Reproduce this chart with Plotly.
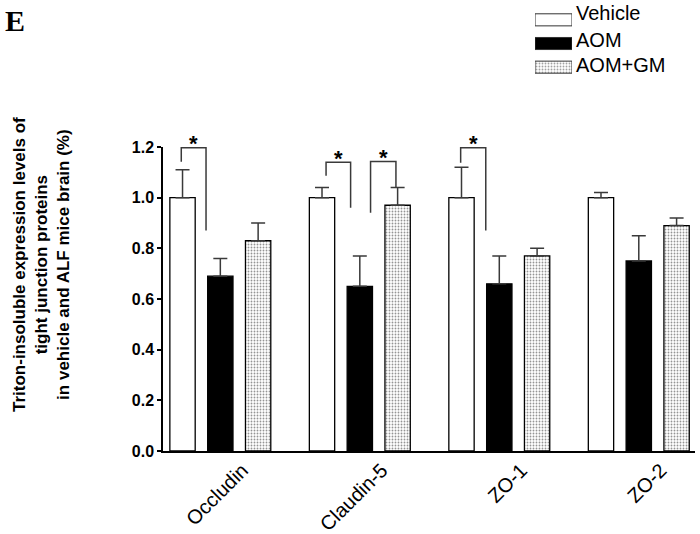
import plotly.graph_objects as go

# ---------------- data ----------------
categories = ["Occludin", "Claudin-5", "ZO-1", "ZO-2"]
series_names = ["Vehicle", "AOM", "AOM+GM"]
vehicle = [1.00, 1.00, 1.00, 1.00]
vehicle_err = [0.11, 0.04, 0.12, 0.02]
aom = [0.69, 0.65, 0.66, 0.75]
aom_err = [0.07, 0.12, 0.11, 0.10]
aom_gm = [0.83, 0.97, 0.77, 0.89]
aom_gm_err = [0.07, 0.07, 0.03, 0.03]
y_ticks = [0.0, 0.2, 0.4, 0.6, 0.8, 1.0, 1.2]

# significance brackets: (category index, left x offset, right x offset,
#                         top y, left leg end y, right leg end y, label)
bracket_cat = [0, 1, 1, 2]
bracket_left = [-0.280, -0.242, 0.077, -0.277]
bracket_right = [-0.1025, -0.066, 0.259, -0.097]
bracket_top = [1.197, 1.140, 1.143, 1.197]
bracket_left_end = [1.142, 1.087, 0.940, 1.138]
bracket_right_end = [0.870, 0.960, 1.040, 0.870]
bracket_label = ["*", "*", "*", "*"]

# ---------------- layout geometry (pixels) ----------------
W, H = 700, 534
PL, PR, PT, PB = 163, 695, 147, 451   # plot area edges in pixels
YMAX = 1.2


def px_x(px):
    return px / W


def px_y(py):
    return 1 - py / H


YD0, YD1 = px_y(PB), px_y(PT)


def val_y(v):
    return YD0 + (v / YMAX) * (YD1 - YD0)


FONT = "Liberation Sans, Arial, sans-serif"
EDGE = "black"
ERRC = "#3a3a3a"
PATTERN = dict(shape=".", size=3, solidity=0.3, fgcolor="#2a2a2a", bgcolor="white")

fig = go.Figure()

fills = ["white", "black", "white"]
patterns = [None, None, PATTERN]
vals = [vehicle, aom, aom_gm]
errs = [vehicle_err, aom_err, aom_gm_err]

for name, v, e, fc, pat in zip(series_names, vals, errs, fills, patterns):
    marker = dict(color=fc, line=dict(color=EDGE, width=1.3))
    if pat is not None:
        marker["pattern"] = pat
    fig.add_trace(go.Bar(
        x=categories, y=v, name=name, marker=marker,
        error_y=dict(type="data", symmetric=False, array=e, arrayminus=[0] * len(e),
                     color=ERRC, thickness=1.5, width=7),
        showlegend=False,
    ))

# legend drawn as a small inset bar chart (keeps the swatch patterns)
leg_names = series_names[::-1]
leg_fills = fills[::-1]
leg_pat_shape = ["." if p else "" for p in patterns][::-1]
fig.add_trace(go.Bar(
    y=leg_names, x=[1, 1, 1], orientation="h", width=0.51,
    marker=dict(color=leg_fills, line=dict(color="#333", width=1),
                pattern=dict(shape=leg_pat_shape, size=PATTERN["size"],
                             solidity=PATTERN["solidity"],
                             fgcolor=PATTERN["fgcolor"], bgcolor="white")),
    xaxis="x2", yaxis="y2", showlegend=False, hoverinfo="skip",
))

fig.update_layout(
    width=W, height=H,
    margin=dict(l=0, r=0, t=0, b=0, pad=0),
    paper_bgcolor="white", plot_bgcolor="white",
    barmode="group", bargap=0.187, bargroupgap=0.33,
    font=dict(family=FONT, color="black"),
    xaxis=dict(
        domain=[px_x(PL), px_x(PR)], anchor="y", automargin=False,
        range=[-0.411, 3.403], showline=True, linecolor="black", linewidth=1.5,
        ticks="", showgrid=False, zeroline=False, tickangle=-45,
        tickfont=dict(size=20, family=FONT, color="black"),
        ticklabelshift=22, ticklabelstandoff=-2,
    ),
    yaxis=dict(
        domain=[YD0, YD1], anchor="x", automargin=False,
        range=[0, YMAX], tickvals=y_ticks, tickformat=".1f",
        showline=True, linecolor="black", linewidth=1.5,
        ticks="outside", ticklen=4, tickwidth=1.5, tickcolor="black",
        showgrid=False, zeroline=False,
        tickfont=dict(size=16, family=FONT, color="black", weight="bold"),
    ),
    xaxis2=dict(domain=[px_x(535), px_x(572)], anchor="y2", range=[0, 1],
                visible=False, fixedrange=True, automargin=False),
    yaxis2=dict(domain=[px_y(79), px_y(8)], anchor="x2", range=[-0.5, 2.5],
                visible=False, fixedrange=True, type="category", automargin=False,
                categoryorder="array", categoryarray=leg_names),
)

# legend labels
for name, yc in zip(series_names, [12.5, 40.0, 65.0]):
    fig.add_annotation(text=name, xref="paper", yref="paper",
                       x=px_x(574), y=px_y(yc), xanchor="left", yanchor="middle",
                       showarrow=False, font=dict(size=20, family=FONT, color="black"))

# significance brackets
for c, xl, xr, yt, yle, yre, lab in zip(bracket_cat, bracket_left, bracket_right,
                                        bracket_top, bracket_left_end, bracket_right_end,
                                        bracket_label):
    x0, x1 = c + xl, c + xr
    path = "M {x0},{a} L {x0},{t} L {x1},{t} L {x1},{b}".format(
        x0=x0, x1=x1, a=val_y(yle), t=val_y(yt), b=val_y(yre))
    fig.add_shape(type="path", path=path, xref="x", yref="paper",
                  line=dict(color=ERRC, width=1.5))
    fig.add_annotation(text="<b>" + lab + "</b>", x=(x0 + x1) / 2, y=val_y(yt),
                       xref="x", yref="paper", showarrow=False,
                       xanchor="center", yanchor="middle", yshift=4,
                       font=dict(size=22, family=FONT, color="black"))

# y-axis title
fig.add_annotation(
    text="Triton-insoluble expression levels of<br>tight junction proteins<br>in vehicle and ALF mice brain (%)",
    xref="paper", yref="paper", x=px_x(41), y=px_y(265),
    xanchor="center", yanchor="middle", textangle=-90, showarrow=False,
    font=dict(size=17, family=FONT, color="black", weight="bold"),
)

# panel letter
fig.add_annotation(text="<b>E</b>", xref="paper", yref="paper",
                   x=px_x(3), y=px_y(21), xanchor="left", yanchor="middle",
                   showarrow=False,
                   font=dict(size=30, family="Liberation Serif, Times New Roman, serif", color="black"))

fig.write_html("out.html", config={"displayModeBar": False},
               post_script="document.body.style.margin='0';document.body.style.padding='0';")
